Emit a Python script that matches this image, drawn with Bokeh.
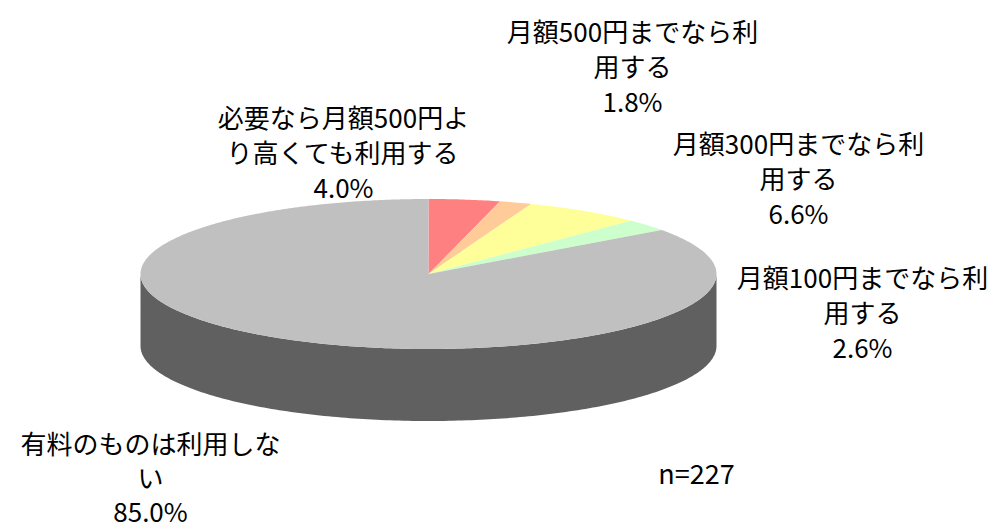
import numpy as np
from bokeh.plotting import figure
from bokeh.models import Range1d
from bokeh.core.properties import value
from bokeh.embed import file_html
from bokeh.resources import INLINE

# ---- data ----
categories = ["必要なら月額500円より高くても利用する", "月額500円までなら利用する",
              "月額300円までなら利用する", "月額100円までなら利用する", "有料のものは利用しない"]
values = [4.0, 1.8, 6.6, 2.6, 85.0]
label_lines = [["必要なら月額500円よ", "り高くても利用する"],
               ["月額500円までなら利", "用する"],
               ["月額300円までなら利", "用する"],
               ["月額100円までなら利", "用する"],
               ["有料のものは利用しな", "い"]]
colors = ["#FF8080", "#FFCC99", "#FFFF99", "#CCFFCC", "#C0C0C0"]
side_color = "#606060"
n_label = "n=227"

W, H = 1001, 528
p = figure(width=W, height=H, output_backend="svg", toolbar_location=None,
           x_range=Range1d(0, W), y_range=Range1d(H, 0), min_border=0)
p.axis.visible = False
p.grid.visible = False
p.outline_line_color = None
p.background_fill_color = "white"

cx, cy, rx, ry, depth = 428.0, 273.5, 288.0, 75.0, 72.0
FONT = value("Noto Sans CJK JP")

# side (front half of the cylinder)
t = np.linspace(0, np.pi, 200)
top_arc_x = cx + rx * np.cos(t)
top_arc_y = cy + ry * np.sin(t)
bot_arc_x = cx + rx * np.cos(t[::-1])
bot_arc_y = cy + depth + ry * np.sin(t[::-1])
p.patch(np.concatenate([top_arc_x, bot_arc_x]), np.concatenate([top_arc_y, bot_arc_y]),
        fill_color=side_color, line_color=None)

# top face wedges, clockwise from 12 o'clock
total = sum(values)
cum = np.concatenate([[0], np.cumsum(values)]) / total * 2 * np.pi
xs, ys = [], []
for i in range(len(values)):
    a = np.linspace(cum[i], cum[i + 1], max(3, int(values[i] * 6)))
    xs.append(np.concatenate([[cx], cx + rx * np.sin(a)]))
    ys.append(np.concatenate([[cy], cy - ry * np.cos(a)]))
p.patches(xs, ys, fill_color=colors, line_color=None)

# labels
label_pos = [(343, 116, 35), (632, 30, 35), (798, 142, 35), (862, 276, 35), (150, 442, 34)]
for i, (lx, ly, step) in enumerate(label_pos):
    lines = label_lines[i] + [f"{values[i]:.1f}%"]
    p.text(x=[lx] * len(lines), y=[ly + k * step for k in range(len(lines))], text=lines,
           text_font=FONT, text_font_size="26px", text_align="center",
           text_baseline="middle", text_color="black")

p.text(x=[696], y=[472], text=[n_label], text_font=FONT, text_font_size="27px",
       text_align="center", text_baseline="middle", text_color="black")

open("out.html", "w").write(file_html(p, INLINE))
